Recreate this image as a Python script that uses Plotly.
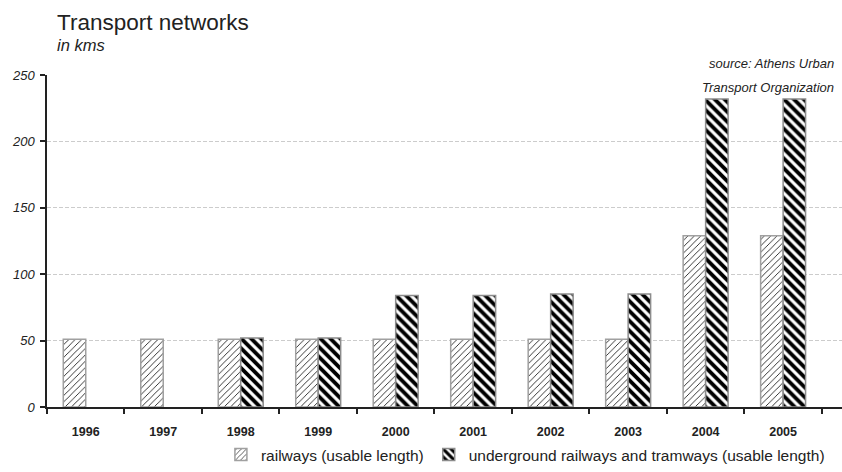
import plotly.graph_objects as go

# Network length in km by year
years = ["1996", "1997", "1998", "1999", "2000", "2001", "2002", "2003", "2004", "2005"]
railways = [51, 51, 51, 51, 51, 51, 51, 51, 129, 129]
underground = [None, None, 52, 52, 84, 84, 85, 85, 232, 232]

series_names = ["railways (usable length)",
                "underground railways and tramways (usable length)"]
y_ticks = [0, 50, 100, 150, 200, 250]

FONT = "Liberation Sans, Arial, sans-serif"
W, H = 842, 472
L, R, T, B = 47, 0, 75, 65

fig = go.Figure()
fig.add_trace(go.Bar(
    x=years, y=railways, name=series_names[0],
    marker=dict(color="white",
                line=dict(color="#a0a0a0", width=1.5),
                pattern=dict(shape="/", size=4.5, solidity=0.2,
                             fgcolor="#222222", fgopacity=1,
                             bgcolor="white")),
))
fig.add_trace(go.Bar(
    x=years, y=underground, name=series_names[1],
    marker=dict(color="white",
                line=dict(color="#8c8c8c", width=1.5),
                pattern=dict(shape="\\", size=7, solidity=0.55,
                             fgcolor="#000000", fgopacity=1,
                             bgcolor="white")),
))

fig.update_layout(
    width=W, height=H,
    margin=dict(l=L, r=R, t=T, b=B),
    paper_bgcolor="white", plot_bgcolor="white",
    barmode="group", bargap=0.42, bargroupgap=0,
    font=dict(family=FONT, color="#222222"),
    showlegend=True,
    legend=dict(orientation="h", xref="container", yref="container",
                x=0.624, xanchor="center", y=0.0, yanchor="bottom",
                font=dict(size=15.5, color="#222222"),
                itemwidth=30, tracegroupgap=0),
    xaxis=dict(
        type="category", range=[-0.5, 9.76],
        showline=True, linecolor="#222222", linewidth=1.5,
        ticks="outside", tickson="boundaries", ticklen=5,
        tickcolor="#222222", tickwidth=1.5,
        ticklabelstandoff=12,
        showgrid=False,
        tickfont=dict(size=12.5, color="#222222", family=FONT, weight="bold"),
    ),
    yaxis=dict(
        range=[0, 250], tickvals=y_ticks,
        showline=True, linecolor="#222222", linewidth=1.5,
        ticks="outside", ticklen=5, tickcolor="#222222", tickwidth=1.5,
        ticklabelstandoff=3,
        showgrid=True, gridcolor="#cccccc", griddash="4px,2px", gridwidth=1,
        zeroline=False,
        tickfont=dict(size=13, color="#222222", family=FONT, style="italic"),
    ),
)

def px_x(p):
    return (p - L) / (W - L - R)

def px_y(p):
    return (H - B - p) / (H - T - B)

fig.add_annotation(text="Transport networks", xref="paper", yref="paper",
                   x=px_x(55), y=px_y(22), xanchor="left", yanchor="middle",
                   showarrow=False, font=dict(size=22.5, color="#222222"))
fig.add_annotation(text="<i>in kms</i>", xref="paper", yref="paper",
                   x=px_x(55), y=px_y(45), xanchor="left", yanchor="middle",
                   showarrow=False, font=dict(size=16.5, color="#222222"))
fig.add_annotation(text="<i>source: Athens Urban</i>", xref="paper", yref="paper",
                   x=px_x(836), y=px_y(63), xanchor="right", yanchor="middle",
                   showarrow=False, font=dict(size=13, color="#222222"))
fig.add_annotation(text="<i>Transport Organization</i>", xref="paper", yref="paper",
                   x=px_x(836), y=px_y(87), xanchor="right", yanchor="middle",
                   showarrow=False, font=dict(size=13, color="#222222"))

fig.write_html("out.html")
